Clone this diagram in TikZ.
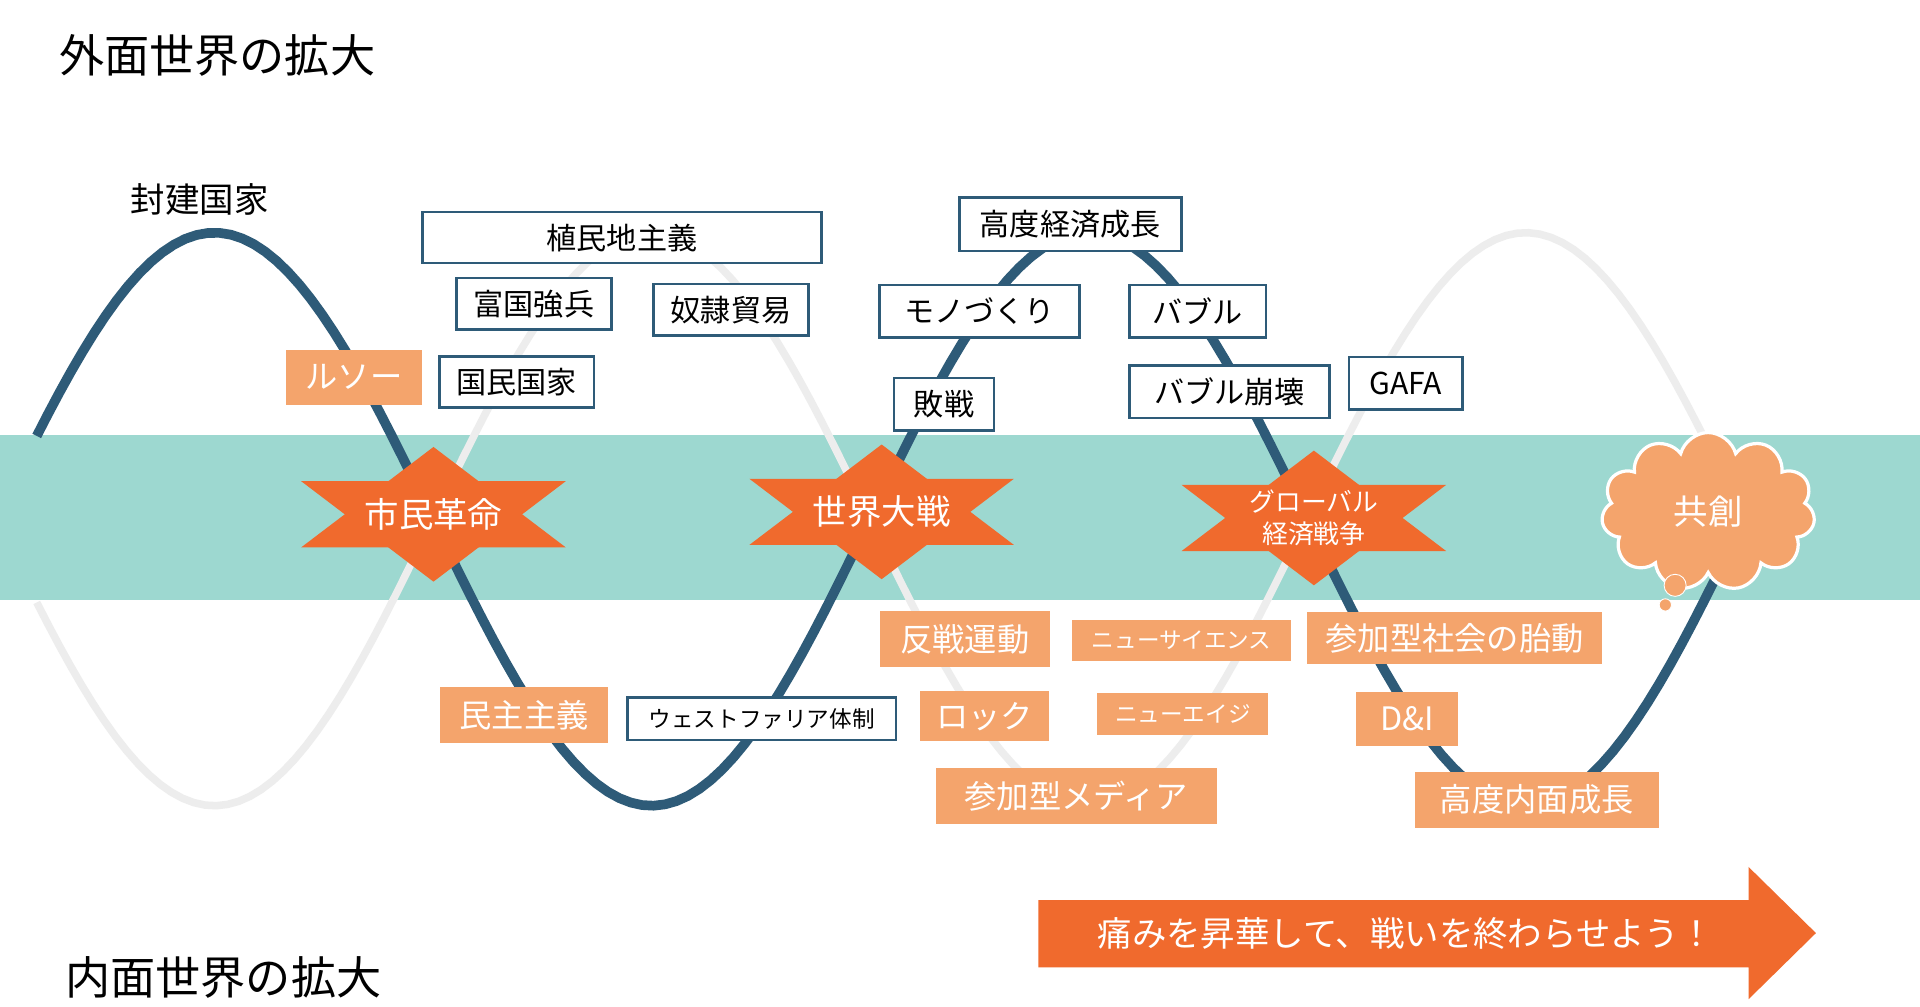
\documentclass[tikz,border=0pt]{standalone}
\usepackage{fontspec}
\setmainfont{Noto Sans CJK JP}
\usetikzlibrary{shapes.symbols,positioning}
\definecolor{navy}{HTML}{2E5B78}
\definecolor{teal}{HTML}{9DD8D0}
\definecolor{peach}{HTML}{F4A46C}
\definecolor{flame}{HTML}{F06A2D}
\definecolor{ghost}{HTML}{EDEDED}

\tikzset{
  box/.style={draw=navy, line width=1.2pt, fill=white, inner sep=0pt, font=\fontsize{14}{16}\selectfont},
  obox/.style={fill=peach, text=white, inner sep=0pt, font=\fontsize{15}{17}\selectfont},
  small/.style={font=\fontsize{10.5}{12}\selectfont},
  title/.style={anchor=west, font=\fontsize{21}{24}\selectfont},
  startext/.style={text=white, align=center, font=\fontsize{16}{19}\selectfont},
}
\newcommand{\hexstar}[2]{% center x, center y
  \fill[flame] (#1,#2-55) -- (#1+108,#2+27) -- (#1-108,#2+27) -- cycle;
  \fill[flame] (#1,#2+55) -- (#1+108,#2-27) -- (#1-108,#2-27) -- cycle;}

\begin{document}
\begin{tikzpicture}[x=0.02cm, y=-0.02cm]
  \useasboundingbox (0,0) rectangle (1568,822);
  \fill[white] (0,0) rectangle (1568,822);

  % band and waves
  \fill[teal] (0,355) rectangle (1568,490);
  \draw[ghost, line width=3.5pt] plot[domain=30:1395, samples=150] (\x, {424+234*cos((\x-175)/357*180)});
  \draw[navy, line width=4.5pt] plot[domain=30:1420, samples=150] (\x, {424-234*cos((\x-175)/357*180)});

  % titles
  \node[title] (outer) at (42,45)  {外面世界の拡大};
  \node[title] (inner) at (47,798) {内面世界の拡大};
  \node[font=\fontsize{16}{19}\selectfont] (feudal) at (163,163) {封建国家};

  % outer boxes
  \node[box, minimum width=326pt*0.02/0.0352, minimum height=42*0.567pt] (colony) at (508,194) {植民地主義};
  \node[box, minimum width=127*0.567pt, minimum height=42*0.567pt] (army)   at (436,248) {富国強兵};
  \node[box, minimum width=127*0.567pt, minimum height=42*0.567pt] (slave)  at (597,253) {奴隷貿易};
  \node[box, minimum width=127*0.567pt, minimum height=42*0.567pt] (nation) at (422,312) {国民国家};
  \node[box, minimum width=182*0.567pt, minimum height=44*0.567pt] (growth) at (874,183) {高度経済成長};
  \node[box, minimum width=164*0.567pt, minimum height=43*0.567pt] (mono)   at (800,254) {モノづくり};
  \node[box, minimum width=112*0.567pt, minimum height=43*0.567pt] (bubble) at (978,254) {バブル};
  \node[box, minimum width=82*0.567pt,  minimum height=43*0.567pt] (defeat) at (771,330) {敗戦};
  \node[box, minimum width=164*0.567pt, minimum height=43*0.567pt] (burst)  at (1004,320) {バブル崩壊};
  \node[box, minimum width=93*0.567pt,  minimum height=43*0.567pt] (gafa)   at (1148,313) {GAFA};
  \node[box, small, minimum width=220*0.567pt, minimum height=35*0.567pt] (westph) at (622,587) {ウェストファリア体制};

  % inner boxes
  \node[obox, minimum width=111*0.567pt, minimum height=45*0.567pt] (rousseau) at (289,308) {ルソー};
  \node[obox, minimum width=138*0.567pt, minimum height=46*0.567pt] (democ)    at (428,584) {民主主義};
  \node[obox, minimum width=140*0.567pt, minimum height=46*0.567pt] (antiwar)  at (788,522) {反戦運動};
  \node[obox, small, minimum width=179*0.567pt, minimum height=33*0.567pt] (newsci) at (965,523) {ニューサイエンス};
  \node[obox, minimum width=242*0.567pt, minimum height=42*0.567pt] (partsoc)  at (1188,521) {参加型社会の胎動};
  \node[obox, minimum width=105*0.567pt, minimum height=41*0.567pt] (rock)     at (804,585) {ロック};
  \node[obox, small, minimum width=140*0.567pt, minimum height=35*0.567pt] (newage) at (966,583) {ニューエイジ};
  \node[obox, minimum width=83*0.567pt,  minimum height=44*0.567pt] (di)       at (1149,587) {D\&I};
  \node[obox, minimum width=230*0.567pt, minimum height=46*0.567pt] (partmed)  at (879,650) {参加型メディア};
  \node[obox, minimum width=200*0.567pt, minimum height=46*0.567pt] (innergr)  at (1255,653) {高度内面成長};

  % turning points
  \hexstar{354}{420}
  \node[startext] (revol) at (354,420) {市民革命};
  \hexstar{720}{418}
  \node[startext] (war) at (720,418) {世界大戦};
  \hexstar{1073}{423}
  \node[startext, font=\fontsize{12}{15}\selectfont] (global) at (1073,423) {グローバル\\経済戦争};

  % cloud
  \node[cloud, cloud puffs=11, fill=peach, draw=white, line width=1.5pt, minimum width=175*0.567pt, minimum height=130*0.567pt, text=white, font=\fontsize{16}{19}\selectfont] (cocreate) at (1395,418) {共創};
  \fill[peach, draw=white] (1368,478) circle (9);
  \fill[peach, draw=white] (1360,494) circle (5);

  % bottom arrow
  \fill[flame] (848,735) -- (1428,735) -- (1428,708) -- (1483,762) -- (1428,816) -- (1428,790) -- (848,790) -- cycle;
  \node[text=white, font=\fontsize{16}{19}\selectfont] (motto) at (1148,762) {痛みを昇華して、戦いを終わらせよう！};
\end{tikzpicture}
\end{document}
